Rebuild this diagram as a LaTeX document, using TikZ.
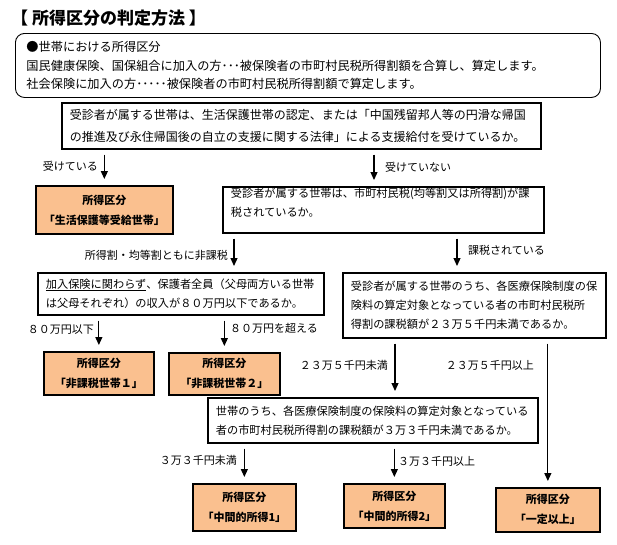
\documentclass[tikz,border=0pt]{standalone}
\usepackage{fontspec}
\setmainfont{Noto Sans CJK JP}
\usetikzlibrary{arrows.meta,positioning}
\definecolor{resfill}{RGB}{250,192,143}
\newcommand{\ulbox}[1]{\setbox0\hbox{#1}\rlap{\copy0}\rule[-2.6pt]{\wd0}{0.8pt}}

\begin{document}
\begin{tikzpicture}[x=1pt,y=-1pt,
  qbox/.style={draw,line width=1.7pt,anchor=north west,align=left,inner xsep=8pt,inner ysep=0pt,font=\fontsize{11.2}{19}\selectfont},
  resbox/.style={draw,line width=1.7pt,fill=resfill,anchor=north west,align=center,inner sep=0pt,font=\bfseries\fontsize{11}{20}\selectfont},
  lbl/.style={font=\fontsize{11}{13}\selectfont,inner sep=0pt},
  arr/.style={-{Triangle[length=8pt,width=7pt]},line width=1.2pt,shorten <=5pt,shorten >=6pt}]
\useasboundingbox (0,0) rectangle (617,544);

\node[anchor=west,inner sep=0pt,font=\bfseries\fontsize{17}{19}\selectfont] (title) at (11,18) {【 所得区分の判定方法 】};
\node[draw,line width=0.9pt,rounded corners=9pt,anchor=north west,align=left,inner xsep=11pt,inner ysep=0pt,
  text width=563pt,minimum height=64pt,font=\fontsize{12.2}{18.5}\selectfont] (info) at (15,33)
  {●世帯における所得区分\\
   国民健康保険、国保組合に加入の方･･･被保険者の市町村民税所得割額を合算し、算定します。\\
   社会保険に加入の方･････被保険者の市町村民税所得割額で算定します。};

% questions
\node[qbox,text width=463pt,minimum height=46pt,font=\fontsize{12}{22}\selectfont] (box1) at (61,102)
  {受診者が属する世帯は、生活保護世帯の認定、または「中国残留邦人等の円滑な帰国\\
   の推進及び永住帰国後の自立の支援に関する法律」による支援給付を受けているか。};
\node[qbox,text width=305pt,minimum height=46pt] (box2) at (222,186)
  {受診者が属する世帯は、市町村民税(均等割又は所得割)が課\\税されているか。\\[-4pt]\mbox{}};
\node[qbox,text width=270pt,minimum height=42pt] (box3) at (37,272)
  {\ulbox{加入保険に関わらず}、保護者全員（父母両方いる世帯\\は父母それぞれ）の収入が８０万円以下であるか。};
\node[qbox,text width=247pt,minimum height=65pt] (box4) at (342,272)
  {受診者が属する世帯のうち、各医療保険制度の保\\険料の算定対象となっている者の市町村民税所\\得割の課税額が２３万５千円未満であるか。};
\node[qbox,text width=314pt,minimum height=45pt] (box5) at (207,397)
  {世帯のうち、各医療保険制度の保険料の算定対象となっている\\者の市町村民税所得割の課税額が３万３千円未満であるか。};

% results
\node[resbox,minimum width=137pt,minimum height=48pt] (res0) at (35,185) {所得区分\\「生活保護等受給世帯」};
\node[resbox,minimum width=110pt,minimum height=43pt] (res1) at (43,351) {所得区分\\「非課税世帯１」};
\node[resbox,minimum width=111pt,minimum height=42pt] (res2) at (168,352) {所得区分\\「非課税世帯２」};
\node[resbox,minimum width=103pt,minimum height=47pt] (res3) at (192,483) {所得区分\\「中間的所得1」};
\node[resbox,minimum width=101pt,minimum height=44pt] (res4) at (343,483) {所得区分\\「中間的所得2」};
\node[resbox,minimum width=104pt,minimum height=44pt] (res5) at (495,487) {所得区分\\「一定以上」};

% arrows
\draw[arr] (box1.south -| res0.north) -- (res0.north);
\draw[arr] (box1.south -| 374,0) -- (box2.north -| 374,0);
\draw[arr] (box2.south -| 234,0) -- (box3.north -| 234,0);
\draw[arr] (box2.south -| 457,0) -- (box4.north -| 457,0);
\draw[arr] (box3.south -| res1.north) -- (res1.north);
\draw[arr] (box3.south -| res2.north) -- (res2.north);
\draw[arr] (box4.south -| 395,0) -- (box5.north -| 395,0);
\draw[arr] (box4.south -| res5.north) -- (res5.north);
\draw[arr] (box5.south -| res3.north) -- (res3.north);
\draw[arr] (box5.south -| res4.north) -- (res4.north);

% labels
\node[lbl,anchor=east] (l1) at (98,166) {受けている};
\node[lbl,anchor=west] (l2) at (385,167) {受けていない};
\node[lbl,anchor=east] (l3) at (228,255) {所得割・均等割ともに非課税};
\node[lbl,anchor=west] (l4) at (468,250) {課税されている};
\node[lbl,anchor=east] (l5) at (94,330) {８０万円以下};
\node[lbl,anchor=west] (l6) at (230,328) {８０万円を超える};
\node[lbl,anchor=east] (l7) at (388,365) {２３万５千円未満};
\node[lbl,anchor=east] (l8) at (534,365) {２３万５千円以上};
\node[lbl,anchor=east] (l9) at (237,460) {３万３千円未満};
\node[lbl,anchor=west] (l10) at (398,461) {３万３千円以上};
\end{tikzpicture}
\end{document}
